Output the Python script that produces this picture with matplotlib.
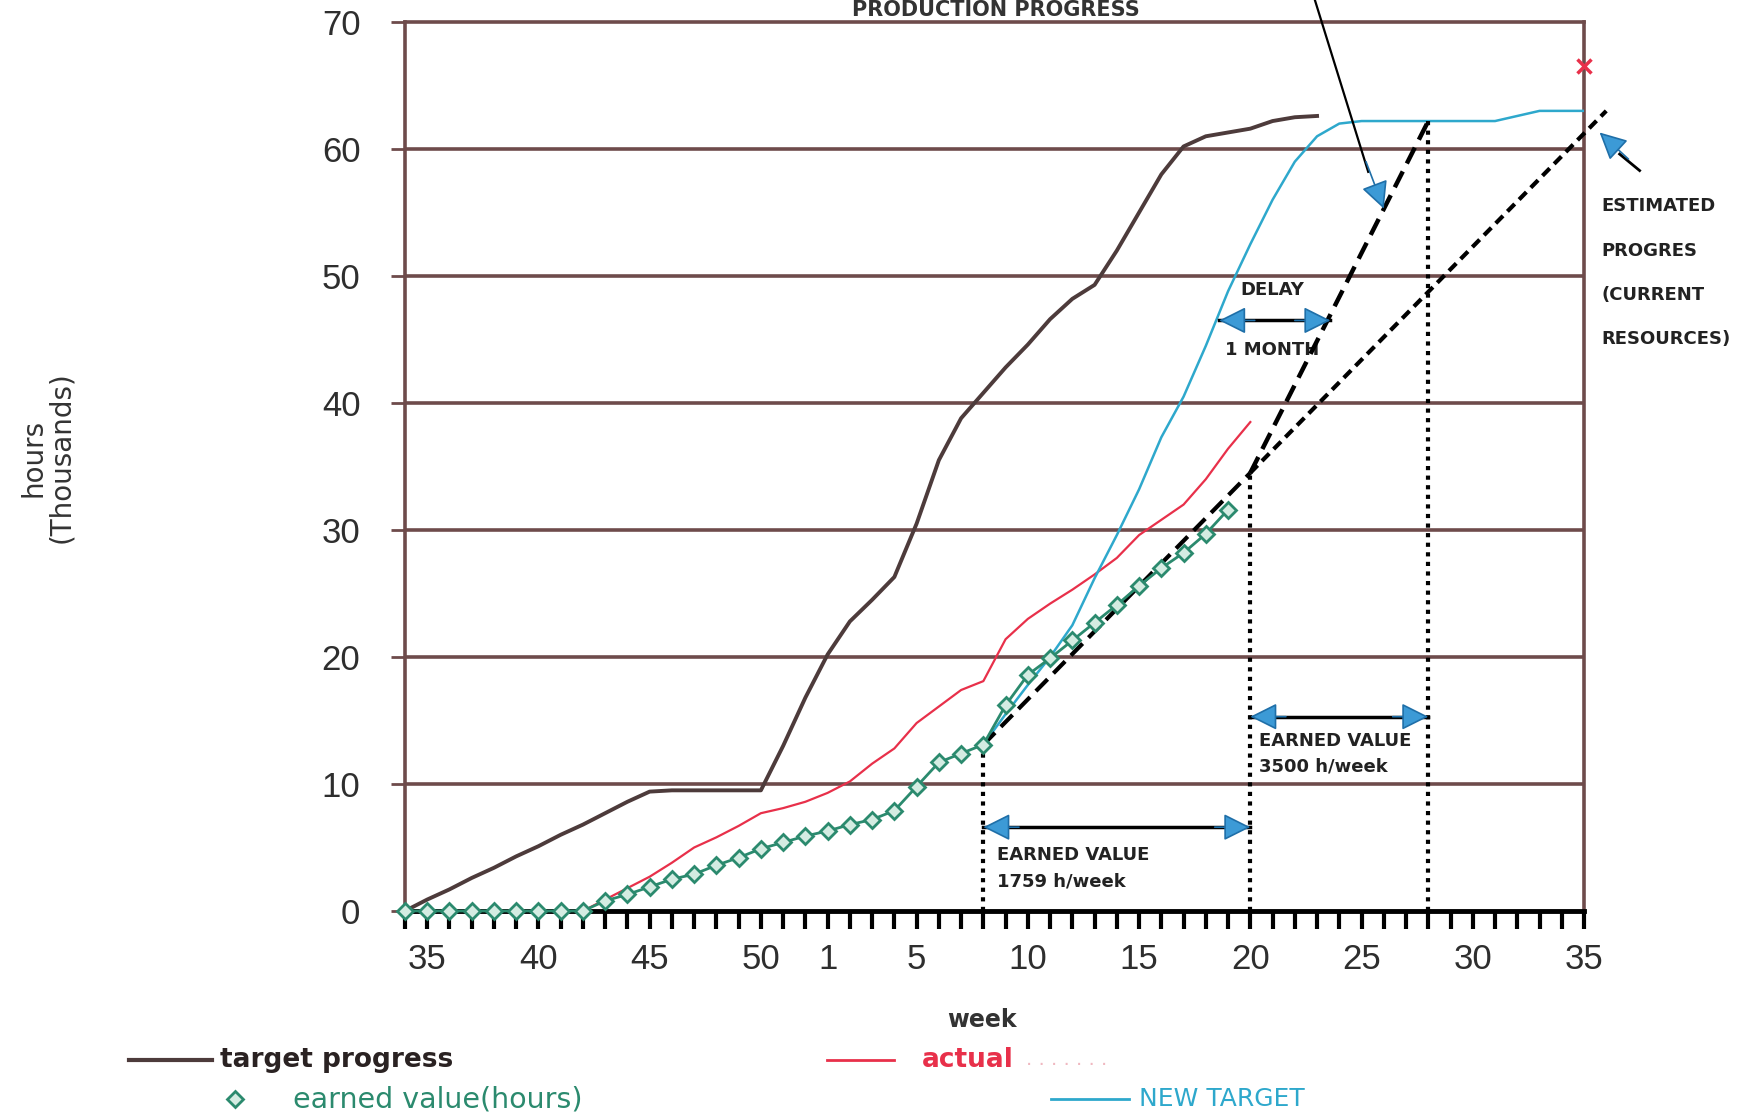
import matplotlib
matplotlib.use('Agg')
import matplotlib.pyplot as plt
from matplotlib.lines import Line2D

# ---------------- data ----------------
# x axis: consecutive weeks, week 34 of year 1 through week 35 of year 2
weeks_year1 = list(range(34, 53))
weeks_year2 = list(range(1, 36))
week_sequence = weeks_year1 + weeks_year2
tick_labels = ["35", "40", "45", "50", "1", "5", "10", "15", "20", "25", "30", "35"]
tick_weeks = [(1, 35), (1, 40), (1, 45), (1, 50), (2, 1), (2, 5), (2, 10),
              (2, 15), (2, 20), (2, 25), (2, 30), (2, 35)]

target_start = 0
target_progress = [0.0, 0.9, 1.7, 2.6, 3.4, 4.3, 5.1, 6.0, 6.8, 7.7, 8.6, 9.4,
                   9.5, 9.5, 9.5, 9.5, 9.5, 13.0, 16.8, 20.2, 22.8, 24.5, 26.3,
                   30.5, 35.5, 38.8, 40.8, 42.8, 44.6, 46.6, 48.2, 49.3, 52.0,
                   55.0, 58.0, 60.2, 61.0, 61.3, 61.6, 62.2, 62.5, 62.6]

earned_start = 0
earned_value = [0, 0, 0, 0, 0, 0, 0, 0, 0, 0.8, 1.3, 1.9, 2.5, 2.9, 3.6, 4.2,
                4.9, 5.4, 5.9, 6.3, 6.8, 7.2, 7.9, 9.8, 11.7, 12.4, 13.1, 16.2,
                18.6, 19.9, 21.3, 22.7, 24.1, 25.6, 27.0, 28.2, 29.7, 31.6]

actual_start = 8
actual = [0.0, 0.9, 1.8, 2.7, 3.8, 5.0, 5.8, 6.7, 7.7, 8.1, 8.6, 9.3, 10.2,
          11.6, 12.8, 14.8, 16.1, 17.4, 18.1, 21.4, 23.0, 24.2, 25.3, 26.5,
          27.8, 29.6, 30.8, 32.0, 34.0, 36.4, 38.5]

new_target_start = 26
new_target = [13.1, 15.5, 17.8, 20.0, 22.5, 26.2, 29.6, 33.2, 37.3, 40.5,
              44.5, 48.8, 52.5, 56.0, 59.0, 61.0, 62.0, 62.2, 62.2, 62.2,
              62.2, 62.2, 62.2, 62.2, 62.6, 63.0, 63.0, 63.0]

# earned value trend lines (week index, thousands of hours)
trend_current_x = [26, 38, 54]
trend_current_y = [13.1, 34.5, 63.0]
trend_needed_x = [38, 46]
trend_needed_y = [34.5, 62.2]
estimate_marker = (53, 66.5)

# ---------------- styling ----------------
GRID = '#6e4b4b'
TARGET = '#4d3b3b'
RED = '#e8304a'
GREEN = '#2b8a6e'
CYAN = '#2ea8cc'
BLUE = '#3c9ad6'


def week_index(year, wk):
    return week_sequence.index(wk, 0 if year == 1 else len(weeks_year1))


fig = plt.figure(figsize=(17.53, 11.16), dpi=100)
ax = fig.add_axes([0.231, 0.1837, 0.6726, 0.7966])
ax.set_xlim(0, len(week_sequence) - 1)
ax.set_ylim(0, 70)

# horizontal grid
for yv in range(10, 70, 10):
    ax.axhline(yv, color=GRID, lw=2.6, zorder=1)

for side in ['left', 'right', 'top']:
    ax.spines[side].set_color(GRID)
    ax.spines[side].set_linewidth(2.6)
ax.spines['bottom'].set_color('black')
ax.spines['bottom'].set_linewidth(3.5)

# ticks
ax.set_yticks(range(0, 80, 10))
ax.set_yticklabels([str(v) for v in range(0, 80, 10)], fontsize=25,
                   family='Liberation Sans', color='#2e2e2e')
ax.tick_params(axis='y', length=10, width=2, color=GRID, pad=22)
ax.set_xticks(range(len(week_sequence)))
lab_idx = {week_index(y, w): l for (y, w), l in zip(tick_weeks, tick_labels)}
ax.set_xticklabels([lab_idx.get(i, '') for i in range(len(week_sequence))],
                   fontsize=25, family='Liberation Sans', color='#2e2e2e')
ax.tick_params(axis='x', length=13, width=3, color='black', pad=10)

xs = lambda start, vals: list(range(start, start + len(vals)))

# series
ax.plot(xs(target_start, target_progress), target_progress, color=TARGET,
        lw=2.8, zorder=4)
ax.plot(xs(actual_start, actual), actual, color=RED, lw=1.6, zorder=4)
ax.plot(xs(new_target_start, new_target), new_target, color=CYAN, lw=1.8,
        zorder=4)
ax.plot(xs(earned_start, earned_value), earned_value, color=GREEN, lw=2.0,
        marker='D', ms=8, mfc='#d4ece2', mec=GREEN, mew=2, zorder=6,
        clip_on=False)

# trend lines
ax.plot(trend_current_x[:2], trend_current_y[:2], color='black', lw=3,
        dashes=(4, 2), zorder=5)
ax.plot(trend_current_x[1:], trend_current_y[1:], color='black', lw=3,
        dashes=(2.5, 1.5), zorder=5, clip_on=False)
ax.plot(trend_needed_x, trend_needed_y, color='black', lw=3.2,
        dashes=(4, 2), zorder=5)

# vertical dotted drop lines
for xv, yv in [(trend_current_x[0], trend_current_y[0]),
               (trend_needed_x[0], trend_needed_y[0]),
               (trend_needed_x[1], trend_needed_y[1])]:
    ax.plot([xv, xv], [0, yv], color='black', lw=3, dashes=(1, 1.3), zorder=5)

ax.plot(*estimate_marker, marker='x', color=RED, ms=10, mew=2.5,
        clip_on=False, zorder=7)


def head(x_tip, y_tip, x_from, y_from):
    ax.annotate('', xy=(x_tip, y_tip), xytext=(x_from, y_from),
                arrowprops=dict(arrowstyle='-|>', mutation_scale=42,
                                fc=BLUE, ec='#1f6fa8', lw=1.2,
                                shrinkA=0, shrinkB=0),
                annotation_clip=False, zorder=8)


def double_arrow(x0, x1, y):
    ax.plot([x0, x1], [y, y], color='black', lw=2.5, zorder=7)
    head(x0, y, x0 + 1.6, y)
    head(x1, y, x1 - 1.6, y)


double_arrow(26, 38, 6.6)
double_arrow(38, 46, 15.3)
double_arrow(36.6, 41.6, 46.5)

txt = dict(fontsize=13, fontweight='bold', color='#222222',
           family='DejaVu Sans')
ax.text(26.6, 4.4, 'EARNED VALUE', va='center', **txt)
ax.text(26.6, 2.3, '1759 h/week', va='center', **txt)
ax.text(38.4, 13.4, 'EARNED VALUE', va='center', **txt)
ax.text(38.4, 11.4, '3500 h/week', va='center', **txt)
ax.text(39.0, 48.9, 'DELAY', ha='center', va='center', **txt)
ax.text(39.0, 44.2, '1 MONTH', ha='center', va='center', **txt)
for i, line in enumerate(['ESTIMATED', 'PROGRES', '(CURRENT', 'RESOURCES)']):
    ax.text(53.8, 55.5 - 3.5 * i, line, va='center', clip_on=False, **txt)

# pointer arrows
ax.plot([40.5, 43.3], [74, 58.2], color='black', lw=1.6, clip_on=False,
        zorder=7)
head(44.0, 55.3, 43.2, 59.0)
ax.plot([54.6, 55.5], [59.6, 58.3], color='black', lw=2, clip_on=False,
        zorder=7)
head(53.7, 61.3, 55.0, 59.2)

# title (sits at the very top edge, above the frame)
fig.text(0.568, 0.9855, 'PRODUCTION PROGRESS', ha='center', va='baseline',
         fontsize=15, fontweight='bold', color='#333333')

# axis labels
fig.text(0.56, 0.086, 'week', ha='center', va='center', fontsize=17,
         fontweight='bold', color='#333333')
fig.text(0.027, 0.59, 'hours\n(Thousands)', ha='center', va='center',
         rotation=90, fontsize=20, color='#333333', linespacing=0.95)

# legend (drawn by hand to mirror the staggered layout)
fig.add_artist(Line2D([0.0736, 0.121], [0.0502, 0.0502], color=TARGET,
                      lw=3, transform=fig.transFigure))
fig.text(0.1255, 0.0502, 'target progress', va='center', fontsize=19,
         fontweight='bold', color='#2a2222')
fig.add_artist(Line2D([0.134], [0.0152], marker='D', ms=8, mfc='#d4ece2',
                      mec=GREEN, mew=2, transform=fig.transFigure))
fig.text(0.167, 0.0152, 'earned value(hours)', va='center', fontsize=20.5,
         color=GREEN)
fig.add_artist(Line2D([0.472, 0.510], [0.0502, 0.0502], color=RED,
                      lw=2, transform=fig.transFigure))
fig.text(0.526, 0.0502, 'actual', va='center', fontsize=19,
         fontweight='bold', color=RED)
fig.text(0.585, 0.0502, '. . . . . . .', va='center', fontsize=14,
         color='#f0b8c0')
fig.add_artist(Line2D([0.5995, 0.644], [0.0152, 0.0152], color=CYAN,
                      lw=2, transform=fig.transFigure))
fig.text(0.650, 0.0152, 'NEW TARGET', va='center', fontsize=18,
         color=CYAN)

fig.savefig('out.png', dpi=100)
